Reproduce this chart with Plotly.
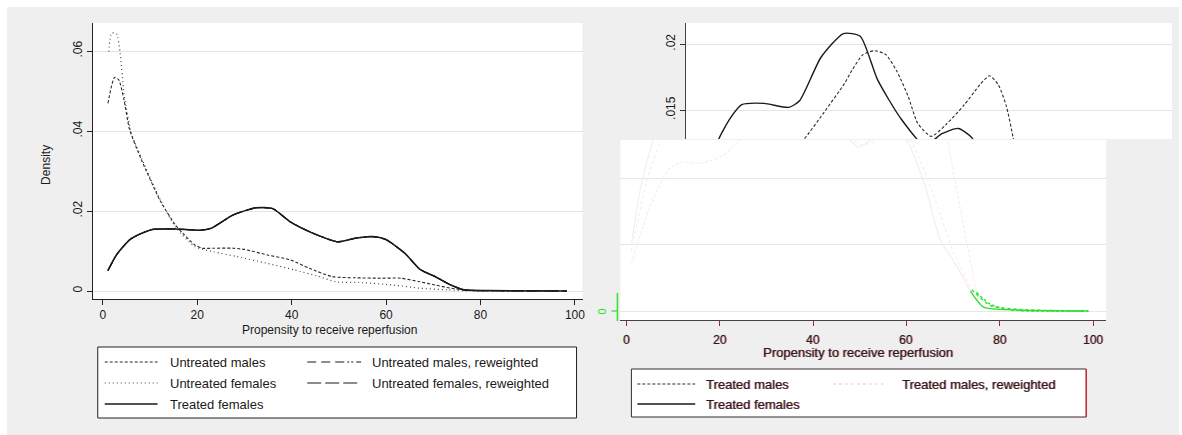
import plotly.graph_objects as go

W, H = 1182, 435
FONT = "Liberation Sans, Arial, sans-serif"


def X(px):
    return px / W


def Y(py):
    return 1 - py / H


# ---------------- data ----------------
x_ticks = [0, 20, 40, 60, 80, 100]
left_y_ticks = [0, 0.02, 0.04, 0.06]
left_y_labels = ["0", ".02", ".04", ".06"]
right_y_ticks = [0.015, 0.02]
right_y_labels = [".015", ".02"]

untreated_males_x = [1.1, 2.5, 3.4, 4.5, 5.7, 8.2, 12.2, 15.4, 17, 19.5, 21.1, 23.5, 27.6, 30,
                     34.9, 39.7, 43.7, 48.6, 53.5, 59.1, 63.1, 67.2, 70.4, 73.7, 76.9, 82, 98]
untreated_males_y = [0.0469, 0.0534, 0.0528, 0.0478, 0.0403, 0.0328, 0.0225, 0.0165, 0.0144, 0.0115,
                     0.0107, 0.0107, 0.0107, 0.0104, 0.0090, 0.0078, 0.0057, 0.0036, 0.0033, 0.0032,
                     0.0032, 0.0023, 0.0015, 0.0007, 0.0002, 0.0, 0.0]

untreated_females_x = [1.3, 1.85, 2.9, 3.7, 4.5, 6.1, 9, 12.2, 15.4, 19.5, 23.5, 28.4, 34.9, 40.5,
                       45.3, 49.4, 55, 61.5, 67.2, 72.9, 77.7, 82]
untreated_females_y = [0.0598, 0.0644, 0.0644, 0.0594, 0.0494, 0.0394, 0.0311, 0.0228, 0.0160,
                       0.0111, 0.0098, 0.0086, 0.0069, 0.0053, 0.0038, 0.0023, 0.0021, 0.0015,
                       0.0007, 0.0003, 0.0, 0.0]

treated_females_x = [1.1, 2.9, 5.7, 8.2, 10.6, 15.4, 20.7, 23, 27.6, 32.4, 36, 39.7, 44.6, 49.8,
                     53.5, 57, 59.9, 64, 67.2, 70.4, 73.7, 76.5, 81.8, 98.3]
treated_females_y = [0.0051, 0.0090, 0.0128, 0.0144, 0.0154, 0.0155, 0.0152, 0.0157, 0.0190,
                     0.0208, 0.0206, 0.0173, 0.0144, 0.0123, 0.0132, 0.0136, 0.0129, 0.0094,
                     0.0054, 0.0036, 0.0015, 0.0003, 0.0001, 0.0]

# reweighted untreated curves coincide with the treated-females curve
untreated_males_rw_x = treated_females_x
untreated_males_rw_y = treated_females_y
untreated_females_rw_x = treated_females_x
untreated_females_rw_y = treated_females_y

treated_males_x = [1.1, 5, 9, 11.7, 15.4, 19, 21.5, 24, 28.2, 32.6, 34.2, 36.6, 39.1, 41.5, 43.9,
                   46.3, 48.3, 51.2, 54.4, 58.3, 61.6, 63.7, 65.6, 67.3, 68.7, 71.8, 75, 78, 82, 86, 99]
treated_males_y = [0.0036, 0.0078, 0.0106, 0.0112, 0.0111, 0.0114, 0.0119, 0.0128, 0.0148, 0.0170,
                   0.0180, 0.0192, 0.0195, 0.0192, 0.0179, 0.0160, 0.0140, 0.0130, 0.0139, 0.0154,
                   0.0169, 0.0176, 0.0169, 0.0153, 0.0130, 0.0072, 0.0014, 0.0005, 0.0001, 0.0, 0.0]

treated_males_rw_x = [1, 5, 10, 15, 20, 25, 30, 35, 40, 45, 50, 55, 60, 65, 70, 74, 78, 85, 99]
treated_males_rw_y = [0.0045, 0.0105, 0.0145, 0.0150, 0.0150, 0.0170, 0.0195, 0.0205, 0.0180,
                      0.0145, 0.0125, 0.0130, 0.0132, 0.0095, 0.0045, 0.0016, 0.0004, 0.0001, 0.0]

TAIL_START = 73.5  # beyond this the lower (faded) curves are drawn green

# ---------------- figure ----------------
fig = go.Figure()

BLACK = "#1a1a1a"
GHOST = "#f8ecec"
GREEN = "#2fe02f"


def add_line(x, y, xa, ya, color, width, dash="solid"):
    fig.add_trace(go.Scatter(x=x, y=y, xaxis=xa, yaxis=ya, mode="lines",
                             line=dict(color=color, width=width, dash=dash, shape="spline", smoothing=0.6),
                             hoverinfo="skip", showlegend=False))


# left panel
add_line(untreated_males_rw_x, untreated_males_rw_y, "x", "y", BLACK, 1.2,
         "9px,5px,9px,5px,9px,3px,2px,2px,2px,3px")
add_line(untreated_females_rw_x, untreated_females_rw_y, "x", "y", BLACK, 1.2, "14px,4px")
add_line(untreated_males_x, untreated_males_y, "x", "y", "#2a2a2a", 1.1, "3px,2px")
add_line(untreated_females_x, untreated_females_y, "x", "y", "#444444", 1.2, "1px,3px")
add_line(treated_females_x, treated_females_y, "x", "y", BLACK, 1.5)

# right panel, upper strip
add_line(treated_males_x, treated_males_y, "x2", "y2", "#2a2a2a", 1.1, "3px,2px")
add_line(treated_females_x, treated_females_y, "x2", "y2", BLACK, 1.4)


# right panel, lower faded box
def split(xs, ys):
    k = next(i for i, v in enumerate(xs) if v >= TAIL_START)
    return (xs[:k + 1], ys[:k + 1]), (xs[k:], ys[k:])


for xs, ys, dash in [(treated_males_rw_x, treated_males_rw_y, "3px,3px"),
                     (treated_females_x, treated_females_y, "solid"),
                     (treated_males_x, treated_males_y, "3px,2px")]:
    (gx, gy), (tx, ty) = split(xs, ys)
    add_line(gx, gy, "x3", "y3", GHOST, 1.2, dash)
    add_line(tx, ty, "x3", "y3", GREEN, 1.4, dash)

shapes = []


def rect(x0, y0, x1, y1, fill, line_color=None, layer="below"):
    shapes.append(dict(type="rect", xref="paper", yref="paper", x0=X(x0), x1=X(x1), y0=Y(y1), y1=Y(y0),
                       fillcolor=fill, layer=layer,
                       line=dict(width=1 if line_color else 0, color=line_color or fill)))


def seg(x0, y0, x1, y1, color, width=1.2, dash="solid", layer="above"):
    shapes.append(dict(type="line", xref="paper", yref="paper", x0=X(x0), x1=X(x1), y0=Y(y0), y1=Y(y1),
                       layer=layer, line=dict(color=color, width=width, dash=dash)))


rect(7, 7, 1182, 435, "#efefef")
rect(93, 23, 584, 299, "white")
rect(688, 23, 1175, 139, "white")
rect(622, 140, 1109, 320, "white")
rect(98, 347, 578, 418, "white", "#222222")
rect(633, 369, 1089, 417, "white", "#3a2a2a")
seg(1089, 369, 1089, 417, "#e02030", 1.2)

# green axis remnant of the lower box
seg(619, 293, 619, 321, GREEN, 1.5)
seg(613, 311, 619, 311, GREEN, 1.2)

# legend samples (left)
seg(105, 362, 158, 362, "#2a2a2a", 1.1, "3px,2px")
seg(308, 362, 362, 362, BLACK, 1.1, "9px,5px,9px,5px,9px,3px,2px,2px,2px,3px")
seg(105, 383, 158, 383, "#444444", 1.2, "1px,3px")
seg(308, 383, 362, 383, BLACK, 1.2, "14px,4px")
seg(105, 404, 158, 404, BLACK, 1.3)
# legend samples (right)
seg(639, 384, 697, 384, "#2a2a2a", 1.1, "3px,2px")
seg(835, 384, 887, 384, "#f0c4c4", 1.1, "3px,3px")
seg(639, 404, 697, 404, BLACK, 1.3)

annotations = []


def text(x, y, s, size=12, color="#1a1a1a", xanchor="center", angle=0, xref="paper", xshift=0):
    annotations.append(dict(x=x, y=Y(y), xref=xref, yref="paper", text=s, showarrow=False,
                            xanchor=xanchor, yanchor="middle", textangle=angle, xshift=xshift,
                            font=dict(family=FONT, size=size, color=color)))


def aberr(x, y, s, size=12, xanchor="center", xref="paper"):
    text(x, y, s, size, "rgba(255,30,50,0.6)", xanchor, 0, xref, 1)
    text(x, y, s, size, "rgba(40,215,230,0.3)", xanchor, 0, xref, -1)
    text(x, y, s, size, "#2a1a1c", xanchor, 0, xref, 0)


text(X(46), 165, "Density", 12, angle=-90)
text(X(330), 330, "Propensity to receive reperfusion", 12)
text(X(604), 311, "0", 11, GREEN, angle=-90)

for v in x_ticks:
    aberr(v, 340, str(v), 12, xref="x3")
aberr(X(860), 352, "Propensity to receive reperfusion", 13)

text(X(168), 362, "Untreated males", 13, xanchor="left")
text(X(371), 362, "Untreated males, reweighted", 13, xanchor="left")
text(X(168), 383, "Untreated females", 13, xanchor="left")
text(X(371), 383, "Untreated females, reweighted", 13, xanchor="left")
text(X(168), 404, "Treated females", 13, xanchor="left")

aberr(X(706), 384, "Treated males", 13, xanchor="left")
aberr(X(902), 384, "Treated males, reweighted", 13, xanchor="left")
aberr(X(706), 404, "Treated females", 13, xanchor="left")

axis_common = dict(zeroline=False, tickfont=dict(family=FONT, size=12, color="#1a1a1a"))

fig.update_layout(
    width=W, height=H, margin=dict(l=0, r=0, t=0, b=0),
    paper_bgcolor="white", plot_bgcolor="rgba(0,0,0,0)", showlegend=False,
    font=dict(family=FONT, size=12, color="#1a1a1a"),
    xaxis=dict(domain=[X(93), X(584)], range=[-2.11, 101.6], anchor="y", tickvals=x_ticks,
               ticks="outside", ticklen=5, tickcolor="#222", showline=True, linecolor="#222",
               showgrid=False, **axis_common),
    yaxis=dict(domain=[Y(299), Y(23)], range=[-0.002, 0.067], anchor="x", tickvals=left_y_ticks,
               ticktext=left_y_labels, tickangle=-90, ticks="outside", ticklen=5, tickcolor="#222",
               showline=True, linecolor="#222", showgrid=True, gridcolor="#e4e4e4", **axis_common),
    xaxis2=dict(domain=[X(688), X(1175)], range=[-1.28, 102.8], anchor="y2", visible=False),
    yaxis2=dict(domain=[Y(139), Y(23)], range=[0.0128, 0.0216], anchor="x2", tickvals=right_y_ticks,
                ticktext=right_y_labels, tickangle=-90, ticks="outside", ticklen=5, tickcolor="#333",
                showline=True, linecolor="#444", showgrid=True, gridcolor="#e4e4e4", **axis_common),
    xaxis3=dict(domain=[X(622), X(1109)], range=[-1.28, 102.8], anchor="y3", tickvals=x_ticks,
                ticks="outside", ticklen=5, tickcolor="#b02030", showline=True, linecolor="#444",
                showticklabels=False, showgrid=False, zeroline=False),
    yaxis3=dict(domain=[Y(320), Y(140)], range=[-0.000677, 0.012857], anchor="x3",
                tickvals=[0, 0.005, 0.01], showticklabels=False, ticks="", showline=False,
                showgrid=True, gridcolor="#e6e6e6", zeroline=False),
    shapes=shapes, annotations=annotations,
)

fig.write_html("out.html", config={"displayModeBar": False},
               post_script="document.body.style.margin='0';document.body.style.overflow='hidden';")
